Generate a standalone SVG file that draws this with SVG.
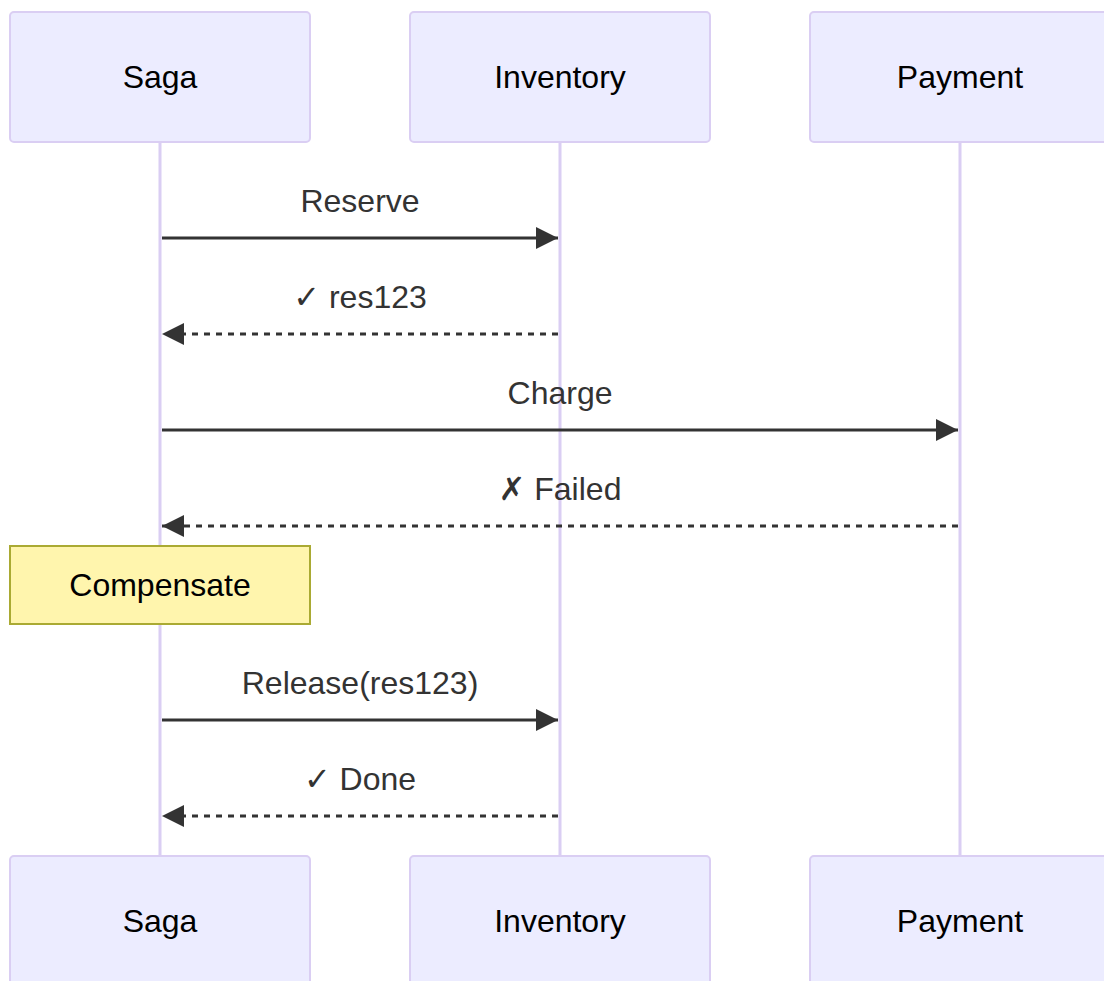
<svg xmlns="http://www.w3.org/2000/svg" width="1104" height="981" viewBox="0 0 1104 981">
  <style>
    .actor rect { fill: #ECECFF; stroke: #DACEF3; stroke-width: 2; }
    .actor text { font-family: "Liberation Sans", Arial, sans-serif; font-size: 32px; fill: #000; text-anchor: middle; }
    .lifeline { stroke: #DACEF3; stroke-width: 3; }
    .msg { stroke: #333; stroke-width: 3; fill: none; }
    .msg.dashed { stroke-dasharray: 6 6; }
    .msg-text { font-family: "Liberation Sans", Arial, "DejaVu Sans", sans-serif; font-size: 32px; fill: #333; text-anchor: middle; }
    .note rect { fill: #FFF5AD; stroke: #AAAA33; stroke-width: 2; }
    .note text { font-family: "Liberation Sans", Arial, sans-serif; font-size: 32px; fill: #000; text-anchor: middle; }
  </style>
  <defs>
    <marker id="arrowhead" markerUnits="userSpaceOnUse" viewBox="0 0 22 22" refX="22" refY="11" markerWidth="22" markerHeight="22" orient="auto">
      <path d="M0,0 L22,11 L0,22 z" fill="#333" stroke="none"/>
    </marker>
  </defs>

  <rect width="1104" height="981" fill="#fff"/>

  <!-- lifelines -->
  <g id="lifelines">
    <line class="lifeline" x1="160" y1="142" x2="160" y2="856"/>
    <line class="lifeline" x1="560" y1="142" x2="560" y2="856"/>
    <line class="lifeline" x1="960" y1="142" x2="960" y2="856"/>
  </g>

  <!-- participants, top row -->
  <g id="saga-top" class="actor">
    <rect x="10" y="12" width="300" height="130" rx="4"/>
    <text x="160" y="88">Saga</text>
  </g>
  <g id="inventory-top" class="actor">
    <rect x="410" y="12" width="300" height="130" rx="4"/>
    <text x="560" y="88">Inventory</text>
  </g>
  <g id="payment-top" class="actor">
    <rect x="810" y="12" width="300" height="130" rx="4"/>
    <text x="960" y="88">Payment</text>
  </g>

  <!-- participants, bottom row -->
  <g id="saga-bottom" class="actor">
    <rect x="10" y="856" width="300" height="130" rx="4"/>
    <text x="160" y="932">Saga</text>
  </g>
  <g id="inventory-bottom" class="actor">
    <rect x="410" y="856" width="300" height="130" rx="4"/>
    <text x="560" y="932">Inventory</text>
  </g>
  <g id="payment-bottom" class="actor">
    <rect x="810" y="856" width="300" height="130" rx="4"/>
    <text x="960" y="932">Payment</text>
  </g>

  <!-- note over Saga -->
  <g id="note-compensate" class="note">
    <rect x="10" y="546" width="300" height="78"/>
    <text x="160" y="596">Compensate</text>
  </g>

  <!-- messages -->
  <g id="messages">
    <text class="msg-text" x="360" y="212">Reserve</text>
    <line class="msg" x1="162" y1="238" x2="558" y2="238" marker-end="url(#arrowhead)"/>

    <text class="msg-text" x="360" y="308">✓ res123</text>
    <line class="msg dashed" x1="558" y1="334" x2="162" y2="334" marker-end="url(#arrowhead)"/>

    <text class="msg-text" x="560" y="404">Charge</text>
    <line class="msg" x1="162" y1="430" x2="958" y2="430" marker-end="url(#arrowhead)"/>

    <text class="msg-text" x="560" y="500">✗ Failed</text>
    <line class="msg dashed" x1="958" y1="526" x2="162" y2="526" marker-end="url(#arrowhead)"/>

    <text class="msg-text" x="360" y="694">Release(res123)</text>
    <line class="msg" x1="162" y1="720" x2="558" y2="720" marker-end="url(#arrowhead)"/>

    <text class="msg-text" x="360" y="790">✓ Done</text>
    <line class="msg dashed" x1="558" y1="816" x2="162" y2="816" marker-end="url(#arrowhead)"/>
  </g>
</svg>
